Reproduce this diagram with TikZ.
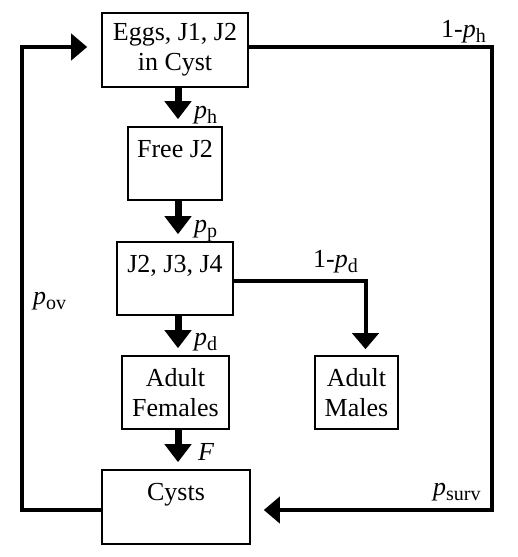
\documentclass[tikz,border=0pt]{standalone}
\usepackage{fontspec}
\setmainfont{Liberation Serif}
\usetikzlibrary{arrows.meta,positioning}

\newcommand{\prb}[1]{\textit{p}\raisebox{-0.2em}{\fontsize{20}{20}\selectfont #1}}

\tikzset{
  stage/.style={draw, line width=1.6pt, inner sep=0pt, align=center, font=\fontsize{26}{30}\selectfont},
  toptext/.style={text height=30pt, text depth=43pt},
  flow/.style={line width=7pt, -{Triangle[width=26pt,length=18pt]}, shorten >=7pt},
  feedback/.style={line width=4pt, -{Triangle[width=26pt,length=16pt]}},
  rate/.style={font=\fontsize{26}{26}\selectfont, inner sep=0pt},
}

\begin{document}
\begin{tikzpicture}[x=1pt, y=-1pt]
    \useasboundingbox (0,0) rectangle (518,557);

    % Stages
    \node[stage, minimum width=146pt, minimum height=74pt] (eggs) at (175,50) {Eggs, J1, J2\\in Cyst};
    \node[stage, toptext, minimum width=94pt] (free) at (175,163.5) {Free J2};
    \node[stage, toptext, minimum width=116pt] (juv) at (175,278.5) {J2, J3, J4};
    \node[stage, minimum width=107pt, minimum height=73pt] (fem) at (175.5,392.5) {Adult\\Females};
    \node[stage, minimum width=83pt, minimum height=73pt] (male) at (356.5,392.5) {Adult\\Males};
    \node[stage, text height=30pt, text depth=44pt, minimum width=148pt] (cysts) at (176,507) {Cysts};

    % Main chain
    \coordinate (spine) at (178,0);
    \draw[flow] (eggs.south -| spine) -- (free.north -| spine);
    \draw[flow] (free.south -| spine) -- (juv.north -| spine);
    \draw[flow] (juv.south -| spine) -- (fem.north -| spine);
    \draw[flow] (fem.south -| spine) -- (cysts.north -| spine);

    % Males branch
    \draw[feedback, shorten >=6pt] ([yshift=-2.5pt]juv.east) -| ([xshift=9pt]male.north);

    % Loops
    \coordinate (left) at (22,47);
    \coordinate (right) at (492,510);
    \draw[feedback, shorten >=14pt] ([yshift=-3pt]cysts.west) -| (left) -- ([yshift=3pt]eggs.west);
    \draw[feedback, shorten >=13pt] ([yshift=3pt]eggs.east) -| (right) -- ([yshift=-3pt]cysts.east);

    % Rates
    \node[rate, anchor=base east] (hatchno) at (486,37) {1-\prb{h}};
    \node[rate, anchor=base west] (hatch) at (194,118) {\prb{h}};
    \node[rate, anchor=base west] (pen) at (194,232) {\prb{p}};
    \node[rate, anchor=base west] (devno) at (313,267) {1-\prb{d}};
    \node[rate, anchor=base west] (dev) at (194,345) {\prb{d}};
    \node[rate, anchor=base west] (ov) at (33,304) {\prb{ov}};
    \node[rate, anchor=base west] (fec) at (198,460) {\textit{F}};
    \node[rate, anchor=base west] (surv) at (433,495) {\prb{surv}};
\end{tikzpicture}
\end{document}
